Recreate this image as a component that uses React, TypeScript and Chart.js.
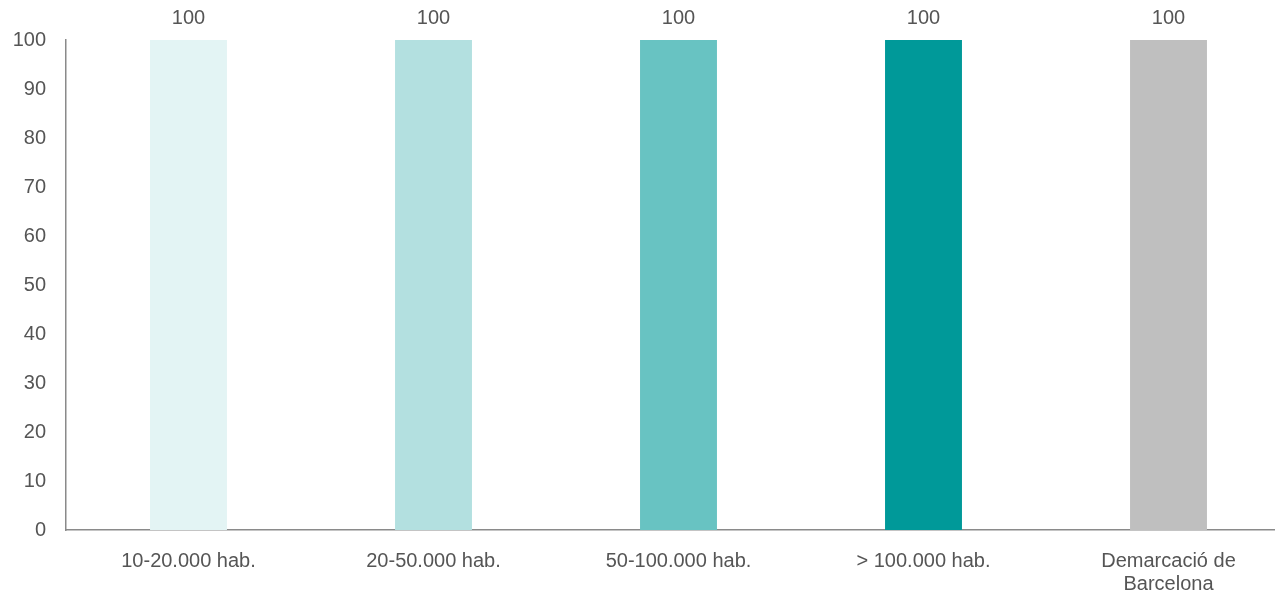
import React, { useEffect, useRef } from "react";
import { Chart, registerables } from "chart.js";

Chart.register(...registerables);

const categories: (string | string[])[] = [
  "10-20.000 hab.",
  "20-50.000 hab.",
  "50-100.000 hab.",
  "> 100.000 hab.",
  ["Demarcació de", "Barcelona"],
];
const values: number[] = [100, 100, 100, 100, 100];
const barColors: string[] = ["#E3F4F4", "#B3E0E0", "#68C3C2", "#009999", "#BFBFBF"];
const yTicks: number[] = [0, 10, 20, 30, 40, 50, 60, 70, 80, 90, 100];

const FONT = "'Liberation Sans', Arial, sans-serif";
const TEXT = "#555555";
const SIZE = 20;

const valueLabels = {
  id: "valueLabels",
  afterDatasetsDraw(chart: any) {
    const ctx = chart.ctx;
    ctx.save();
    ctx.font = `${SIZE}px ${FONT}`;
    ctx.fillStyle = TEXT;
    ctx.textAlign = "center";
    ctx.textBaseline = "middle";
    chart.data.datasets.forEach((ds: any, di: number) => {
      const meta = chart.getDatasetMeta(di);
      meta.data.forEach((el: any, i: number) => {
        ctx.fillText(String(ds.data[i]), el.x, el.y - 22);
      });
    });
    ctx.restore();
  },
};

export default function App() {
  const ref = useRef<HTMLCanvasElement | null>(null);
  useEffect(() => {
    if (!ref.current) return;
    const chart = new Chart(ref.current, {
      type: "bar",
      data: {
        labels: categories,
        datasets: [
          {
            data: values,
            backgroundColor: barColors,
            categoryPercentage: 1,
            barPercentage: 0.314,
          },
        ],
      },
      options: {
        animation: false,
        responsive: false,
        maintainAspectRatio: false,
        layout: { padding: { top: 40, right: 9, left: 0, bottom: 0 } },
        plugins: {
          legend: { display: false },
          tooltip: { enabled: false },
        },
        scales: {
          x: {
            grid: { display: false, drawTicks: false },
            border: { display: true, color: "#8a8a8a", width: 1.5 },
            ticks: {
              color: TEXT,
              font: { family: FONT, size: SIZE, lineHeight: 1.15 },
              padding: 20,
              maxRotation: 0,
              autoSkip: false,
            },
            afterFit(scale: any) {
              scale.height = 64;
            },
          },
          y: {
            min: 0,
            max: 100,
            afterBuildTicks(scale: any) {
              scale.ticks = yTicks.map((v) => ({ value: v }));
            },
            grid: { display: false, drawTicks: false },
            border: { display: true, color: "#8a8a8a", width: 1.5 },
            ticks: {
              color: TEXT,
              font: { family: FONT, size: SIZE },
              padding: 20,
            },
            afterFit(scale: any) {
              scale.width = 66;
            },
          },
        },
      },
      plugins: [valueLabels],
    });
    return () => chart.destroy();
  }, []);
  return (
    <div
      style={{
        position: "fixed",
        left: 0,
        top: 0,
        width: 1275,
        height: 594,
        overflow: "hidden",
        background: "#fff",
      }}
    >
      <canvas ref={ref} width={1300} height={594} style={{ display: "block" }} />
    </div>
  );
}
